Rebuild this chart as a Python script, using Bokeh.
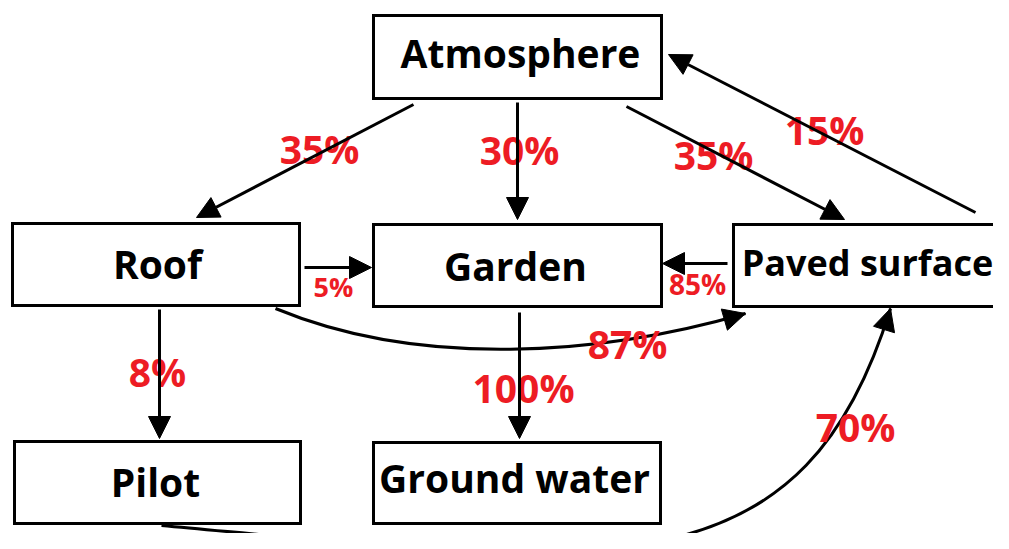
from bokeh.plotting import figure
from bokeh.models import ColumnDataSource, Range1d, Arrow, NormalHead
from bokeh.core.properties import value
from bokeh.embed import file_html
from bokeh.resources import INLINE

# ---- data ----
nodes = ["Atmosphere", "Roof", "Garden", "Paved surface", "Pilot", "Ground water"]
flow_from = ["Atmosphere", "Atmosphere", "Atmosphere", "Paved surface", "Roof",
             "Paved surface", "Roof", "Garden", "Roof", "Pilot"]
flow_to = ["Roof", "Garden", "Paved surface", "Atmosphere", "Garden",
           "Garden", "Pilot", "Ground water", "Paved surface", "Paved surface"]
flow_pct = [35, 30, 35, 15, 5, 85, 8, 100, 87, 70]

# ---- layout (reference pixel space) ----
box_left = [373, 12, 373, 733, 14, 373]
box_right = [661, 299, 661, 1100, 300, 660]
box_top = [15, 223, 224, 224, 441, 442]
box_bottom = [98, 305, 306, 306, 523, 523]
text_x = [520, 157, 515, 867, 155, 514]
text_y = [68, 279, 281, 278, 497, 493]
text_size = ["39px", "39px", "39px", "36px", "39px", "39px"]

# straight flows: start/end; curved flows: bezier controls (None for straight)
arr_x0 = [413, 517, 626, 975, 304, 727, 159, 519, 275, 161]
arr_y0 = [104, 102, 106, 212, 267, 263, 309, 312, 308, 525]
arr_x1 = [196, 517, 844, 668, 371, 662, 159, 519, 745, 890]
arr_y1 = [217, 219, 219, 54, 267, 263, 438, 438, 313, 308]
curve_c0 = [None] * 8 + [(420, 368), (600, 565)]
curve_c1 = [None] * 8 + [(600, 355), (800, 600)]
lab_x = [319, 519, 713, 824, 333, 697, 157, 523, 627, 855]
lab_y = [164, 165, 170, 145, 302, 299, 387, 403, 359, 442]
lab_size = ["39px"] * 4 + ["27px", "28px"] + ["39px"] * 4

RED = "#ED1C24"
FONT = value("Open Sans")
TXT_SHIFT = -16  # svg text baseline correction

p = figure(width=993, height=533, x_range=Range1d(0, 993), y_range=Range1d(533, 0),
           output_backend="svg", toolbar_location=None, min_border=0)
p.axis.visible = False
p.grid.visible = False
p.outline_line_color = None
p.background_fill_color = "white"

# boxes: white fill + four border segments each
p.quad(left=box_left, right=box_right, top=box_top, bottom=box_bottom,
       fill_color="white", line_color=None)
n_b = len(box_left)
p.segment(x0=box_left + box_left + box_left + box_right,
          y0=box_top + box_bottom + box_top + box_top,
          x1=box_right + box_right + box_left + box_right,
          y1=box_top + box_bottom + box_bottom + box_bottom,
          line_color="black", line_width=3, line_cap="square")

# flows
for i in range(len(flow_pct)):
    if curve_c0[i] is None:
        p.add_layout(Arrow(x_start=arr_x0[i], y_start=arr_y0[i], x_end=arr_x1[i], y_end=arr_y1[i],
                           line_width=3, line_color="black",
                           end=NormalHead(size=22, fill_color="black", line_color="black", line_width=1)))
    else:
        (cx0, cy0), (cx1, cy1) = curve_c0[i], curve_c1[i]
        p.bezier(x0=[arr_x0[i]], y0=[arr_y0[i]], x1=[arr_x1[i]], y1=[arr_y1[i]],
                 cx0=[cx0], cy0=[cy0], cx1=[cx1], cy1=[cy1], line_width=3, line_color="black")
        dx, dy = arr_x1[i] - cx1, arr_y1[i] - cy1
        n = (dx * dx + dy * dy) ** 0.5
        p.add_layout(Arrow(x_start=arr_x1[i] - 12 * dx / n, y_start=arr_y1[i] - 12 * dy / n,
                           x_end=arr_x1[i], y_end=arr_y1[i], line_width=3, line_color="black",
                           end=NormalHead(size=22, fill_color="black", line_color="black", line_width=1)))

# node labels
nsrc = ColumnDataSource(dict(x=text_x, y=[v + TXT_SHIFT for v in text_y], t=nodes, s=text_size))
p.text(x="x", y="y", text="t", source=nsrc, text_font=FONT, text_font_style="bold",
       text_font_size="s", text_color="black", text_align="center",
       text_baseline="alphabetic")

# percentage labels
src = ColumnDataSource(dict(x=lab_x, y=[v + TXT_SHIFT for v in lab_y],
                            t=[f"{v}%" for v in flow_pct], s=lab_size))
p.text(x="x", y="y", text="t", source=src, text_font=FONT, text_font_style="bold",
       text_font_size="s", text_color=RED, text_align="center", text_baseline="alphabetic")

open("out.html", "w").write(file_html(p, INLINE))
